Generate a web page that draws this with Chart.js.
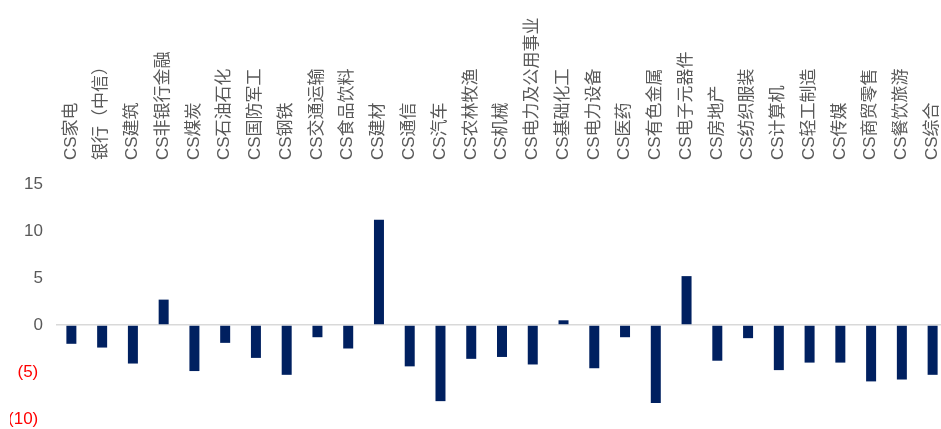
<!DOCTYPE html>
<html><head><meta charset="utf-8">
<script src="https://cdn.jsdelivr.net/npm/chart.js@4/dist/chart.umd.min.js"></script>
<style>
html,body{margin:0;padding:0;overflow:hidden;background:#fff;}
#wrap{width:948px;height:429px;position:relative;}
</style></head>
<body><div id="wrap"><canvas id="c"></canvas></div>
<script>
const categories = ["CS家电","银行（中信）","CS建筑","CS非银行金融","CS煤炭","CS石油石化","CS国防军工","CS钢铁","CS交通运输","CS食品饮料","CS建材","CS通信","CS汽车","CS农林牧渔","CS机械","CS电力及公用事业","CS基础化工","CS电力设备","CS医药","CS有色金属","CS电子元器件","CS房地产","CS纺织服装","CS计算机","CS轻工制造","CS传媒","CS商贸零售","CS餐饮旅游","CS综合"];
const values = [-2.0,-2.4,-4.1,2.7,-4.9,-1.9,-3.5,-5.3,-1.3,-2.5,11.2,-4.4,-8.1,-3.6,-3.4,-4.2,0.5,-4.6,-1.3,-8.3,5.2,-3.8,-1.4,-4.8,-4.0,-4.0,-6.0,-5.8,-5.3];
const yMin = -10, yMax = 15, yStep = 5;

const FONT = "'Liberation Sans', 'Noto Sans CJK SC', sans-serif";
new Chart(document.getElementById('c'), {
  type: 'bar',
  data: { labels: categories, datasets: [{ data: values, backgroundColor: '#002060', borderWidth: 0, barPercentage: 0.325, categoryPercentage: 1 }] },
  options: {
    responsive: true, maintainAspectRatio: false, animation: false,
    layout: { padding: { left: 10, right: 0, top: 0, bottom: 10 } },
    plugins: { legend: { display: false }, tooltip: { enabled: false } },
    scales: {
      x: {
        position: 'top',
        grid: { display: false, drawTicks: false },
        border: { display: false },
        ticks: { minRotation: 90, maxRotation: 90, autoSkip: false, padding: 24, labelOffset: 20, color: '#595959', font: { family: FONT, size: 17 } },
        afterFit: (s) => { s.height = 184; s.paddingLeft = 0; s.paddingRight = 0; }
      },
      y: {
        min: yMin, max: yMax,
        grid: { color: (ctx) => ctx.tick && ctx.tick.value === 0 ? '#d9d9d9' : 'rgba(0,0,0,0)', lineWidth: 1.5, drawTicks: false },
        border: { display: false },
        ticks: {
          stepSize: yStep, padding: 13,
          color: (ctx) => ctx.tick && ctx.tick.value < 0 ? '#ff0000' : '#595959',
          font: { family: FONT, size: 17 },
          callback: (v) => v < 0 ? '(' + Math.abs(v) + ') ' : String(v)
        },
        afterFit: (s) => { s.width = 46; s.paddingTop = 0; s.paddingBottom = 0; }
      }
    }
  }
});
</script></body></html>
